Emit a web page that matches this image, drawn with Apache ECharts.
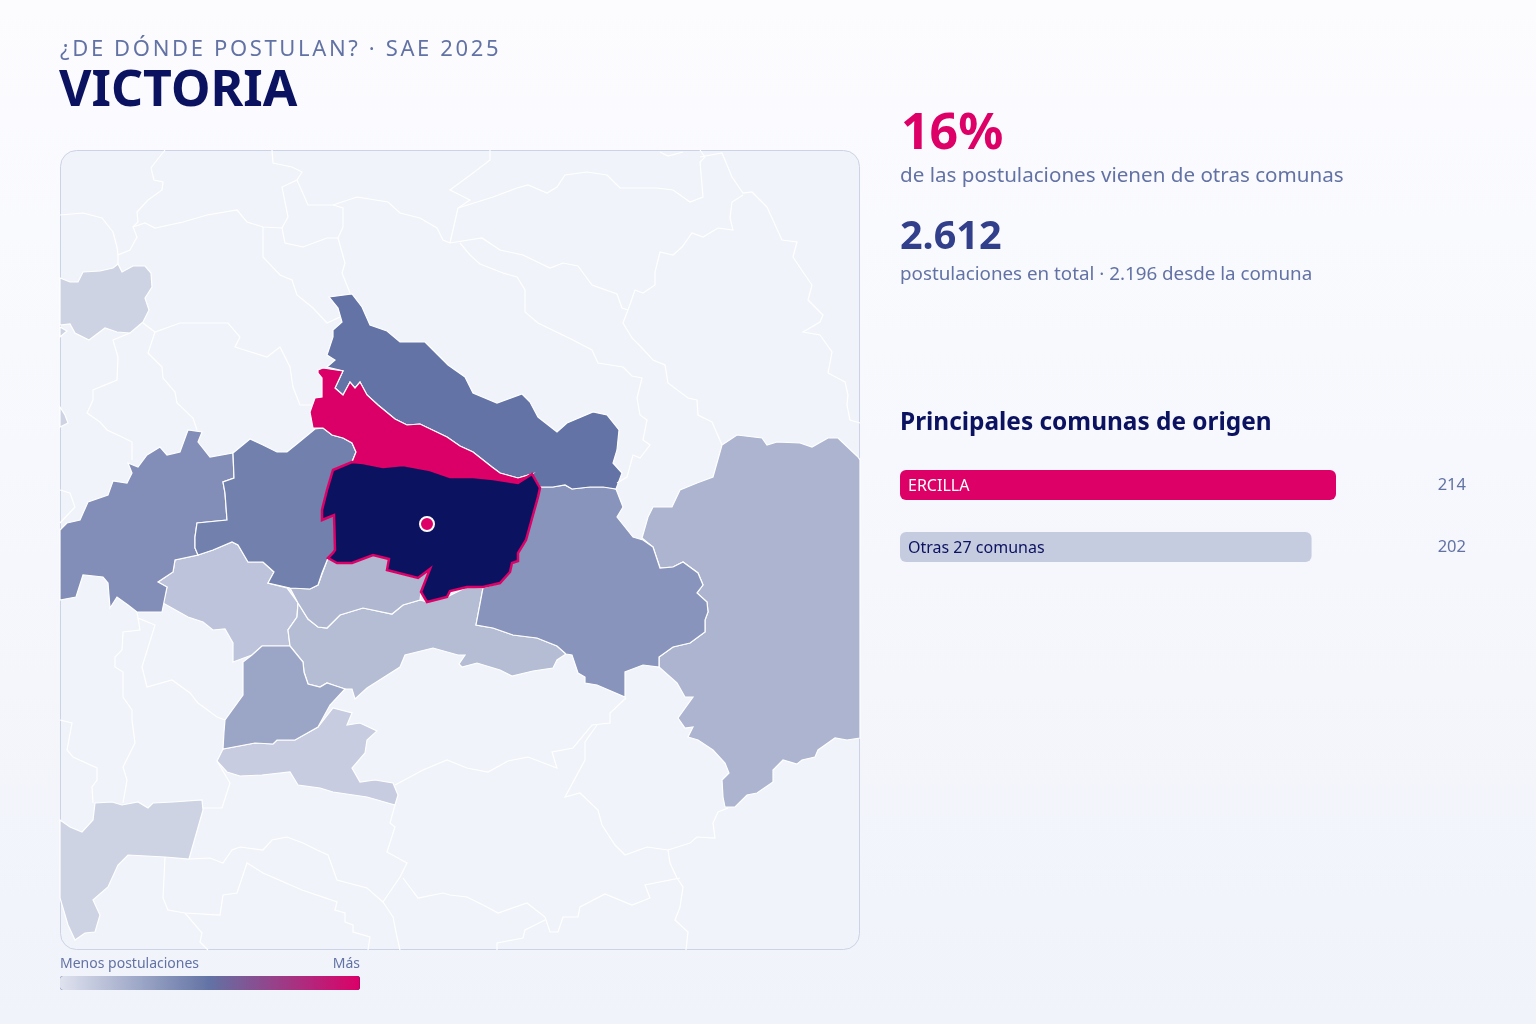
<!DOCTYPE html>
<html lang="es">
<head>
<meta charset="utf-8">
<title>Victoria · SAE 2025</title>
<script src="https://cdn.jsdelivr.net/npm/echarts@6/dist/echarts.min.js"></script>
<style>
  html, body { margin: 0; padding: 0; }
  #chart { width: 1536px; height: 1024px; }
</style>
</head>
<body>
<div id="chart"></div>
<script>
const comunas = ["LOS ÁLAMOS", "TIRÚA", "CONTULMO", "CARAHUE", "TEMUCO", "GALVARINO", "LAUTARO", "PERQUENCO", "LONQUIMAY", "CHOLCHOL", "CURACAUTÍN", "LUMACO", "TRAIGUÉN", "COLLIPULLI", "ERCILLA", "VICTORIA"];
const postulaciones = [1, 1, 1, 1, 2, 4, 6, 8, 9, 16, 26, 30, 41, 53, 214, 2196];

// barras de la derecha
const origenNombres = ["ERCILLA", "Otras 27 comunas"];
const origenValores = [214, 202];

const comunaFoco = "VICTORIA";
const ubicacionEscuela = [[427, 524]];
const legendaColores = ["#dfe2ee", "#6272a4", "#dc0067"];
const SUBTITULO = "¿DE DÓNDE POSTULAN? · SAE 2025";

// contornos trazados del mapa, unidades del mapa
const contornos = {
  "LOS ÁLAMOS": "60,278 70,282 78,282 83,272 100,271 113,268 118,264 122,272 133,266 145,266 151,273 152,287 145,298 149,310 143,322 130,333 117,332 105,328 89,340 75,333 70,324 60,325",
  "TIRÚA": "60,327 67,331 60,337",
  "CONTULMO": "60,407 65,415 68,423 60,427",
  "CARAHUE": "60,820 70,827 82,832 93,820 95,803 112,802 122,805 138,802 148,808 153,803 173,802 202,800 203,810 189,859 165,857 128,855 118,865 108,887 93,900 100,915 95,932 85,933 75,940 68,925 60,898",
  "TEMUCO": "223,749 255,743 273,744 277,740 295,740 318,727 333,708 352,713 347,725 360,723 377,731 367,740 365,753 352,768 360,782 375,780 393,783 398,795 395,805 367,797 333,792 320,788 298,785 290,772 262,775 240,776 227,772 217,761",
  "GALVARINO": "158,582 173,572 175,560 198,555 213,550 232,542 238,545 248,562 263,562 274,572 268,583 287,588 298,603 297,617 288,630 290,646 262,646 252,655 233,662 233,643 225,629 213,630 203,622 188,617 163,603 167,587",
  "LAUTARO": "298,603 308,619 318,627 327,628 340,615 363,608 392,614 403,605 420,600 427,602 447,597 467,587 483,588 476,625 493,628 513,635 537,638 557,646 566,654 557,660 553,668 533,671 512,676 500,670 477,663 462,667 459,664 465,655 458,655 433,648 405,655 400,667 367,688 355,699 352,689 345,689 333,685 327,683 320,687 308,684 304,672 303,662 290,646 288,630 297,617",
  "PERQUENCO": "290,588 310,589 318,585 328,558 337,563 352,563 373,555 389,559 387,570 418,578 430,569 421,592 420,600 403,605 392,614 363,608 340,615 327,628 318,627 308,619 298,603",
  "LONQUIMAY": "642,538 648,517 653,507 672,507 680,490 697,483 713,477 722,445 737,435 762,438 767,445 777,442 800,443 812,447 828,438 838,438 858,457 860,460 860,738 847,740 835,738 818,750 815,757 802,760 797,764 783,760 773,770 773,782 757,793 747,795 735,807 725,807 723,797 722,780 729,773 725,763 713,750 698,740 688,737 693,727 685,728 678,718 693,697 685,697 677,683 659,667 659,657 673,647 690,643 705,632 705,620 708,612 707,602 697,593 703,585 698,573 683,562 673,567 660,568 653,547",
  "CHOLCHOL": "262,646 290,646 303,662 304,672 308,684 320,687 327,683 333,685 345,689 330,705 318,727 295,740 277,740 273,744 255,743 223,749 224,732 225,720 243,695 243,662 252,655",
  "CURACAUTÍN": "540,487 553,487 565,485 572,489 590,487 607,487 616,489 623,507 617,517 633,537 643,540 653,547 660,568 673,567 683,562 698,573 703,585 697,593 707,602 708,612 705,620 705,632 690,643 673,647 659,657 659,667 643,665 625,672 625,697 597,685 585,683 585,677 578,673 572,655 566,654 557,646 537,638 513,635 493,628 476,625 483,588 500,583 510,572 512,563 518,561 518,553 526,540",
  "LUMACO": "60,530 67,523 80,520 88,502 108,495 113,481 127,483 132,473 128,463 138,467 147,455 160,447 167,455 180,452 188,430 202,432 198,442 210,457 233,453 234,478 223,482 225,493 227,520 197,523 195,537 195,548 198,555 175,560 173,572 158,582 167,587 162,612 137,612 128,605 117,597 110,608 108,583 103,577 83,575 76,597 60,600",
  "TRAIGUÉN": "233,453 250,439 263,445 277,452 287,452 298,443 315,429 323,428 332,435 343,438 352,443 356,452 352,462 333,470 327,490 322,510 322,520 334,515 335,550 333,553 328,558 322,573 318,585 310,589 290,588 268,583 274,572 263,562 248,562 238,545 232,542 213,550 198,555 195,548 195,537 197,523 227,520 225,493 223,482 234,478",
  "COLLIPULLI": "329,297 352,294 362,307 370,325 387,331 400,342 425,342 433,350 448,365 465,377 473,393 497,403 522,394 530,402 538,417 557,432 567,423 593,412 607,415 619,430 617,450 613,463 622,473 616,489 603,487 590,487 572,489 565,485 553,487 540,487 532,474 518,478 500,473 492,467 473,452 460,446 447,437 420,424 407,425 395,419 378,405 367,395 360,382 355,388 350,382 343,395 335,388 343,371 327,367 335,360 327,355 333,337 333,330 342,322 338,308",
  "ERCILLA": "318,370 323,368 343,371 335,388 343,395 350,382 355,388 360,382 367,395 378,405 395,419 407,425 420,424 447,437 460,446 473,452 492,467 500,473 518,478 532,474 518,483 493,479 473,477 450,477 430,470 403,465 383,467 363,463 352,462 356,452 352,443 343,438 332,435 323,428 313,428 310,412 315,398 322,397 322,378 318,373",
  "VICTORIA": "333,470 352,462 363,463 383,467 403,465 430,470 450,477 473,477 493,479 518,483 532,474 540,488 538,497 526,540 518,553 518,561 512,563 510,572 500,583 483,587 467,587 450,591 447,597 427,602 421,592 430,569 418,578 387,570 389,559 373,555 352,563 337,563 328,558 333,553 335,550 334,515 322,520 322,510 327,490"
};

// limites comunales sin postulaciones
const limites = [
  "165,150 157,160 151,168 154,180 163,182 162,190 148,200 137,212 138,222 133,227 137,237 130,250 118,255 118,264",
  "60,215 83,213 102,218 113,232 117,247 118,255",
  "133,227 145,223 155,228 183,222 207,215 237,210 247,222 263,227 282,228 288,217 282,187 297,180 302,172 292,167 273,163 272,150",
  "297,180 308,205 333,205 357,197 388,202 400,213 420,218 437,228 443,240 450,243 482,238 500,250 523,255 550,268 563,263 578,266 592,285 617,294 622,308 628,310",
  "333,205 343,208 343,227 338,238 327,238 303,247 285,243 282,228",
  "338,238 345,263 342,273 350,293",
  "263,227 263,257 280,275 292,280 297,295 313,308 327,323 340,317",
  "143,323 155,332 180,323 228,323 240,337 235,347 267,357 280,347 290,367 293,387 300,405 312,405",
  "155,332 148,353 162,367 163,378 175,392 177,403 193,418 197,430",
  "130,333 113,340 118,357 117,380 93,390 93,400 87,413 100,422 107,430 122,437 132,442 132,460",
  "60,490 70,493 75,507 60,523",
  "490,150 490,160 473,173 450,190 470,200 458,208 450,243",
  "458,208 493,197 517,188 528,185 547,193 557,187 565,175 587,172 607,175 620,188 657,188 673,190 690,202 703,197 700,162 705,157 700,150",
  "660,152 668,156 683,152",
  "700,157 722,153 732,177 743,193 752,192 767,207 772,218 782,240 797,242 793,257 803,272 812,285 808,300 823,315 820,322 803,332 820,335 832,352 828,373 845,382 848,395 847,405 850,420 860,423",
  "743,195 732,202 730,218 733,230 718,228 703,237 692,233 682,247 673,255 660,252 655,272 655,285 643,293 635,290 628,310 623,323 632,338 642,348 653,360 665,365 668,383 688,398 697,400 698,415 712,422 722,445",
  "460,243 470,255 480,264 503,273 517,277 525,290 525,312 538,323 573,340 592,350 598,363 623,367 632,376 642,378 637,398 640,415 647,420 643,440 650,445 640,458 633,455 627,477 617,483",
  "138,618 140,630 123,632 122,650 115,657 115,667 123,672 123,697 132,710 132,720 135,743 123,767 127,780 123,803",
  "137,612 138,618 155,625 142,667 147,687 172,680 190,693 198,703 217,717 225,720",
  "60,720 72,723 67,750 73,757 97,768 97,780 92,787 93,803",
  "217,761 230,783 222,808 203,808",
  "189,859 210,858 223,863 232,850 240,847 263,850 272,840 287,837 303,843 317,850 328,855 337,880 367,888 383,902",
  "395,805 390,823 395,827 387,852 407,863 400,877 383,902 393,917 397,937 400,950",
  "403,878 418,898 443,893 450,895 467,897 487,907 498,913 527,903 545,917 550,932 558,932 563,917 578,917 580,907 605,894 632,905 650,898 645,885 680,878",
  "165,857 163,898 168,910 185,913 220,915 223,895 237,893 247,863 263,873 302,890 337,902 335,910 345,913 345,922 353,925 353,932 370,937 368,950",
  "185,913 202,933 200,942 208,950",
  "395,785 423,770 447,760 467,768 488,772 508,761 528,757 557,768 552,752 573,748 592,725 610,723 610,713 626,698",
  "597,725 585,742 585,760 565,797 580,793 598,810 602,825 615,845 625,855 647,847 668,850 690,843 697,837 715,838 713,823 718,812 728,808",
  "668,850 670,863 677,878 683,887 680,907 675,920 688,932 686,950",
  "545,920 525,930 523,938 497,943 497,950"
];

const parseTrazo = (s) => s.split(" ").map((p) => p.split(",").map(Number));

echarts.registerMap("araucania", {
  type: "FeatureCollection",
  features: comunas.map((name) => {
    const ring = parseTrazo(contornos[name]);
    ring.push(ring[0]);
    return {
      type: "Feature",
      properties: { name },
      geometry: { type: "Polygon", coordinates: [ring] },
    };
  }),
});

// zrender no tiene letter spacing, se lo damos solo al subtitulo
const fillTextOriginal = CanvasRenderingContext2D.prototype.fillText;
CanvasRenderingContext2D.prototype.fillText = function (t, x, y, w) {
  if (t !== SUBTITULO) {
    return fillTextOriginal.apply(this, arguments);
  }
  this.letterSpacing = "2.64px";
  fillTextOriginal.call(this, t, x, y);
  this.letterSpacing = "0px";
};

const FONT = '"Noto Sans", sans-serif';
const AZUL = "#0b1260";
const ROSA = "#dc0067";
const GRIS = "#6272a4";

function texto(text, x, y, size, fill, extra) {
  return {
    type: "text",
    style: {
      x,
      y,
      text,
      fill,
      font: `${(extra && extra.weight) || "normal"} ${size}px ${FONT}`,
      textAlign: (extra && extra.align) || "left",
      textVerticalAlign: "middle",
    },
  };
}

const chart = echarts.init(document.getElementById("chart"));

chart.setOption({
  animation: false,
  backgroundColor: {
    type: "linear",
    x: 0,
    y: 0,
    x2: 0,
    y2: 1,
    colorStops: [
      { offset: 0, color: "#fcfcff" },
      { offset: 1, color: "#f0f3fa" },
    ],
  },
  graphic: {
    z: 0,
    elements: [
      {
        type: "rect",
        shape: { x: 60.5, y: 150.5, width: 799, height: 799, r: 16 },
        style: { fill: "#f0f3f9", stroke: "#cdd3e6", lineWidth: 1 },
      },
      texto(SUBTITULO, 60, 50, 22, GRIS),
      texto("VICTORIA", 59, 92, 50, AZUL, { weight: "bold" }),
      texto("16%", 901, 135, 50, ROSA, { weight: "bold" }),
      texto("de las postulaciones vienen de otras comunas", 900, 176, 20.6, GRIS),
      texto("2.612", 900, 238, 39.5, "#323f8a", { weight: "bold" }),
      texto("postulaciones en total · 2.196 desde la comuna", 900, 275, 18.8, GRIS),
      texto("Principales comunas de origen", 900, 423, 24.4, AZUL, { weight: "bold" }),
      texto("Menos postulaciones", 60, 964, 14, GRIS),
      texto("Más", 360, 964, 14, GRIS, { align: "right" }),
    ],
  },
  geo: {
    map: "araucania",
    z: 1,
    silent: true,
    roam: false,
    projection: {
      project: (p) => p,
      unproject: (p) => p,
    },
    boundingCoords: [
      [60, 150],
      [860, 950],
    ],
    left: 60,
    top: 150,
    width: 800,
    height: 800,
    label: { show: false },
    itemStyle: { areaColor: "#f0f3f9", borderColor: "#ffffff", borderWidth: 1.2 },
    regions: [
      {
        name: comunaFoco,
        itemStyle: { borderColor: ROSA, borderWidth: 2.5 },
      },
    ],
  },
  // el color va por raiz cuadrada: si no, casi todo queda en el tono mas claro.
  // range deja a la comuna foco fuera de la escala para que tome outOfRange
  visualMap: {
    type: "continuous",
    seriesIndex: 0,
    min: 0,
    max: 14.66,
    range: [0, 14.65],
    orient: "horizontal",
    left: 60,
    top: 976,
    padding: 0,
    itemWidth: 14,
    itemHeight: 300,
    text: null,
    calculable: false,
    showLabel: false,
    hoverLink: false,
    inRange: { color: legendaColores },
    outOfRange: { color: AZUL },
  },
  grid: { left: 900, top: 454, width: 436, height: 124 },
  xAxis: { type: "value", min: 0, max: 214, show: false },
  yAxis: [
    {
      type: "category",
      inverse: true,
      data: origenNombres,
      axisLine: { show: false },
      axisTick: { show: false },
      axisLabel: { show: false },
    },
    {
      type: "category",
      inverse: true,
      position: "right",
      data: origenValores.map(String),
      axisLine: { show: false },
      axisTick: { show: false },
      axisLabel: {
        align: "right",
        margin: 130,
        fontSize: 16.5,
        fontFamily: FONT,
        color: GRIS,
        verticalAlign: "middle",
        lineHeight: 18,
        padding: [3, 0, 0, 0],
      },
    },
  ],
  series: [
    {
      type: "map",
      geoIndex: 0,
      data: comunas.map((name, i) => ({
        name,
        value: Math.sqrt(postulaciones[i]),
      })),
    },
    {
      type: "lines",
      coordinateSystem: "geo",
      polyline: true,
      silent: true,
      z: 3,
      lineStyle: { color: "#ffffff", width: 1.2, opacity: 1 },
      data: limites.map((s) => ({ coords: parseTrazo(s) })),
    },
    {
      type: "scatter",
      coordinateSystem: "geo",
      silent: true,
      z: 4,
      symbolSize: 14,
      itemStyle: { color: ROSA, opacity: 1, borderColor: "#ffffff", borderWidth: 2 },
      data: ubicacionEscuela,
    },
    {
      type: "bar",
      xAxisIndex: 0,
      yAxisIndex: 0,
      barWidth: 30,
      silent: true,
      data: origenValores.map((value, i) => ({
        value,
        itemStyle: {
          color: i === 0 ? ROSA : "#c5cce0",
          borderRadius: 6,
        },
        label: { color: i === 0 ? "#ffffff" : AZUL },
      })),
      label: {
        show: true,
        position: "insideLeft",
        distance: 8,
        offset: [0, 1],
        fontSize: 16,
        fontFamily: FONT,
        formatter: (p) => origenNombres[p.dataIndex],
      },
    },
  ],
});
</script>
</body>
</html>
